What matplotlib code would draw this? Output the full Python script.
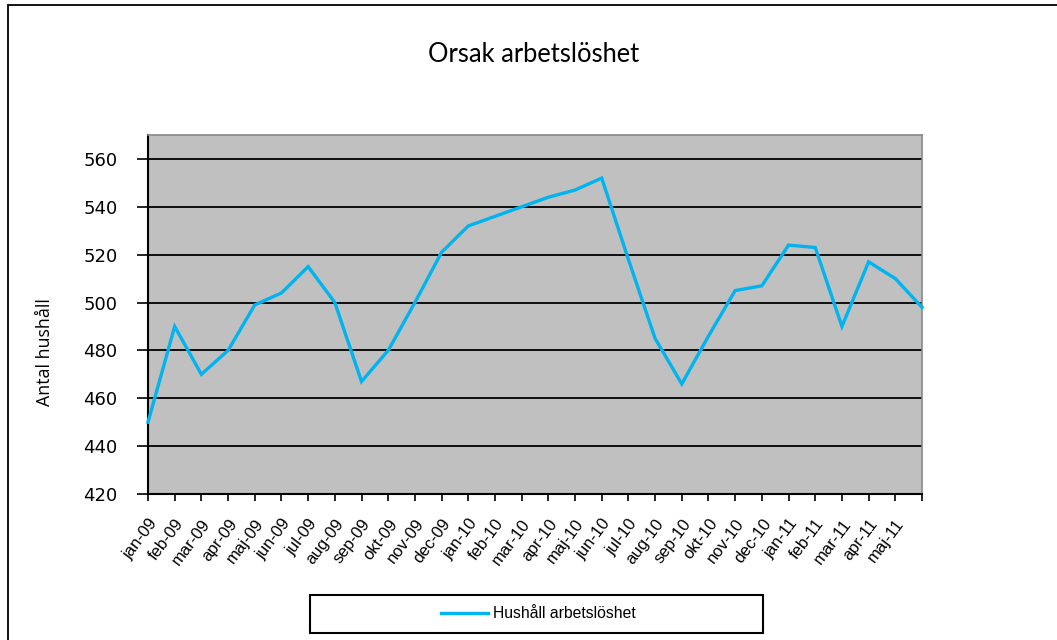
import matplotlib
matplotlib.use('Agg')
import matplotlib.pyplot as plt
from matplotlib.patches import Rectangle
from matplotlib.lines import Line2D

# months on the x axis (last one has no visible label in the original)
months = ['jan-09', 'feb-09', 'mar-09', 'apr-09', 'maj-09', 'jun-09', 'jul-09', 'aug-09',
          'sep-09', 'okt-09', 'nov-09', 'dec-09', 'jan-10', 'feb-10', 'mar-10', 'apr-10',
          'maj-10', 'jun-10', 'jul-10', 'aug-10', 'sep-10', 'okt-10', 'nov-10', 'dec-10',
          'jan-11', 'feb-11', 'mar-11', 'apr-11', 'maj-11', 'jun-11']
hushall = [450, 490, 470, 480, 499, 504, 515, 500, 467, 480, 500, 521, 532, 536, 540,
           544, 547, 552, 518, 485, 466, 486, 505, 507, 524, 523, 490, 517, 510, 498]
yticks = [420, 440, 460, 480, 500, 520, 540, 560]

W, H = 1057, 640
fig = plt.figure(figsize=(W / 100, H / 100), dpi=100)
fig.patch.set_facecolor('white')

# plot area in pixels: left 148, right 922, top 135, bottom 494
ax = fig.add_axes([148 / W, 1 - 494 / H, (922 - 148) / W, (494 - 135) / H])
ax.set_facecolor('#C0C0C0')

x = list(range(len(months)))
ax.plot(x, hushall, color='#00B4F0', lw=2.4, solid_joinstyle='miter', clip_on=False, zorder=3)

ax.set_xlim(0, len(months) - 1)
ax.set_ylim(420, 570)
ax.set_yticks(yticks)
ax.set_yticklabels([str(v) for v in yticks], fontsize=13, family='DejaVu Sans')
ax.yaxis.grid(True, color='black', lw=1.3)
ax.set_axisbelow(True)

ax.set_xticks(x)
ax.set_xticklabels(months[:-1] + [''], rotation=53, ha='right', va='top',
                   rotation_mode='anchor', fontsize=12, family='Liberation Sans')
ax.tick_params(axis='x', length=5, width=1.2, direction='out', pad=11)
ax.tick_params(axis='y', length=8, width=1.2, direction='out', pad=14)

for s in ['left', 'bottom']:
    ax.spines[s].set_color('black')
    ax.spines[s].set_linewidth(1.5)
for s in ['top', 'right']:
    ax.spines[s].set_color('#888888')
    ax.spines[s].set_linewidth(1.2)

fig.text(45 / W, 1 - 352 / H, 'Antal hushåll', rotation=90, ha='center', va='center',
         fontsize=12.8, family='Open Sans')

fig.text(534 / W, 1 - 55 / H, 'Orsak arbetslöshet', ha='center', va='center',
         fontsize=18.4, family='Lato')

# chart area border (runs off the right and bottom of the picture)
fig.patches.append(Rectangle((7.5 / W, -0.1), 1.2, 1 - 4.5 / H + 0.1, transform=fig.transFigure,
                             fill=False, ec='black', lw=1.3))

# legend box
fig.patches.append(Rectangle((310 / W, 1 - 633 / H), (763 - 310) / W, (633 - 595) / H,
                             transform=fig.transFigure, fill=False, ec='black', lw=1.5))
handle = Line2D([], [], color='#00B4F0', lw=2.4)
fig.legend([handle], ['Hushåll arbetslöshet'], loc='center',
           bbox_to_anchor=(538 / W, 1 - 614 / H), frameon=False,
           prop={'family': 'Liberation Sans', 'size': 11.3},
           handlelength=3.0, handletextpad=0.3)

fig.savefig('out.png', dpi=100)
